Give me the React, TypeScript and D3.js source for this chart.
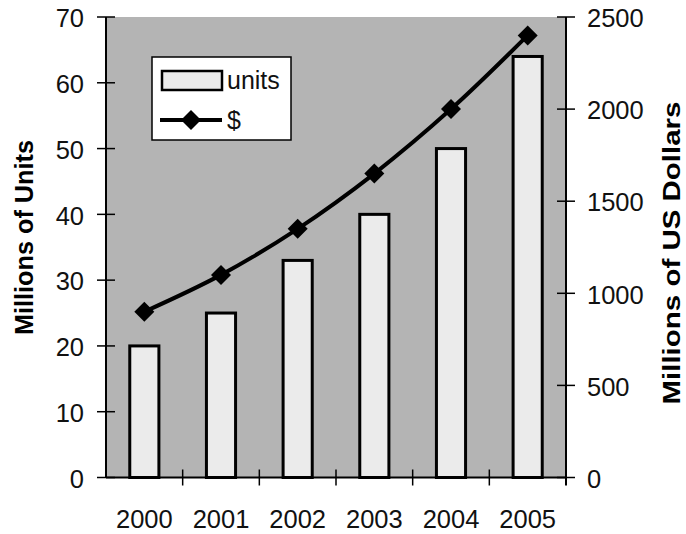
import React from 'react';
import * as d3 from 'd3';

// Yearly figures
const years = ['2000', '2001', '2002', '2003', '2004', '2005'];
const units = [20, 25, 33, 40, 50, 64]; // millions of units
const dollars = [900, 1100, 1350, 1650, 2000, 2400]; // millions of US dollars

const unitTicks = [0, 10, 20, 30, 40, 50, 60, 70];
const dollarTicks = [0, 500, 1000, 1500, 2000, 2500];

const W = 686;
const H = 534;
const plot = { left: 106, right: 566, top: 17, bottom: 477.5 };
const FONT = '"Liberation Sans", Arial, sans-serif';

export default function App() {
  const x = d3.scaleBand<string>().domain(years).range([plot.left, plot.right]).padding(0);
  const yUnits = d3.scaleLinear().domain([0, 70]).range([plot.bottom, plot.top]);
  const yDollars = d3.scaleLinear().domain([0, 2500]).range([plot.bottom, plot.top]);

  const bw = x.bandwidth();
  const barW = bw * 0.38;
  const cx = (y: string) => (x(y) as number) + bw / 2;

  const line = d3
    .line<number>()
    .x((_, i) => cx(years[i]))
    .y((d) => yDollars(d))
    .curve(d3.curveCatmullRom.alpha(0.5));

  const diamond = d3.symbol().type(d3.symbolSquare).size(200)() as string;

  const boundaries = [...years.map((y) => x(y) as number), plot.right];

  return (
    <svg
      width={W}
      height={H}
      style={{ position: 'absolute', left: 0, top: 0, background: '#ffffff' }}
      fontFamily={FONT}
    >
      {/* plot area */}
      <rect
        x={plot.left}
        y={plot.top}
        width={plot.right - plot.left}
        height={plot.bottom - plot.top}
        fill="#b4b4b4"
      />

      {/* unit bars */}
      {units.map((v, i) => (
        <rect
          key={years[i]}
          x={cx(years[i]) - barW / 2}
          y={yUnits(v)}
          width={barW}
          height={plot.bottom - yUnits(v)}
          fill="#ebebeb"
          stroke="#000"
          strokeWidth={3}
        />
      ))}

      {/* axes lines */}
      <line x1={plot.left} x2={plot.left} y1={plot.top} y2={plot.bottom} stroke="#000" strokeWidth={2} />
      <line x1={plot.right} x2={plot.right} y1={plot.top} y2={plot.bottom + 8} stroke="#000" strokeWidth={2} />
      <line x1={plot.left} x2={plot.right} y1={plot.bottom} y2={plot.bottom} stroke="#000" strokeWidth={2} />

      {/* left axis */}
      {unitTicks.map((t) => (
        <g key={'u' + t}>
          <line x1={plot.left - 9} x2={plot.left + 9} y1={yUnits(t)} y2={yUnits(t)} stroke="#000" strokeWidth={1.5} />
          <text x={84} y={yUnits(t)} dy="0.4em" fontSize={25.5} textAnchor="end" fill="#111">
            {t}
          </text>
        </g>
      ))}

      {/* right axis */}
      {dollarTicks.map((t) => (
        <g key={'d' + t}>
          <line x1={plot.right - 9} x2={plot.right + 9} y1={yDollars(t)} y2={yDollars(t)} stroke="#000" strokeWidth={1.5} />
          <text x={587} y={yDollars(t)} dy="0.4em" fontSize={25.5} textAnchor="start" fill="#111">
            {t}
          </text>
        </g>
      ))}

      {/* category ticks */}
      {boundaries.slice(1, -1).map((b, i) => (
        <line key={'b' + i} x1={b} x2={b} y1={plot.bottom - 8} y2={plot.bottom + 8} stroke="#000" strokeWidth={1.5} />
      ))}
      {years.map((y) => (
        <text key={'l' + y} x={cx(y)} y={528} fontSize={25.5} textAnchor="middle" fill="#111">
          {y}
        </text>
      ))}

      {/* dollar line */}
      <path d={line(dollars) as string} fill="none" stroke="#000" strokeWidth={4} />
      {dollars.map((v, i) => (
        <path
          key={'m' + i}
          d={diamond}
          transform={`translate(${cx(years[i])},${yDollars(v)}) rotate(45)`}
          fill="#000"
        />
      ))}

      {/* axis titles */}
      <text
        transform="translate(33,237.5) rotate(-90)"
        textAnchor="middle"
        fontSize={25}
        fontWeight="bold"
        textLength={195}
        lengthAdjust="spacingAndGlyphs"
        fill="#000"
      >
        Millions of Units
      </text>
      <text
        transform="translate(680,253) rotate(-90)"
        textAnchor="middle"
        fontSize={24}
        fontWeight="bold"
        textLength={303}
        lengthAdjust="spacingAndGlyphs"
        fill="#000"
      >
        Millions of US Dollars
      </text>

      {/* legend */}
      <g>
        <rect x={152} y={57} width={139} height={83} fill="#fff" stroke="#000" strokeWidth={1.5} />
        <rect x={162} y={71} width={60} height={19} fill="#ebebeb" stroke="#000" strokeWidth={2.5} />
        <text x={227} y={89} fontSize={25} fill="#111">
          units
        </text>
        <line x1={160} x2={222} y1={120} y2={120} stroke="#000" strokeWidth={4} />
        <path d={diamond} transform="translate(191,120) rotate(45)" fill="#000" />
        <text x={227} y={129} fontSize={25} fill="#111">
          $
        </text>
      </g>
    </svg>
  );
}
